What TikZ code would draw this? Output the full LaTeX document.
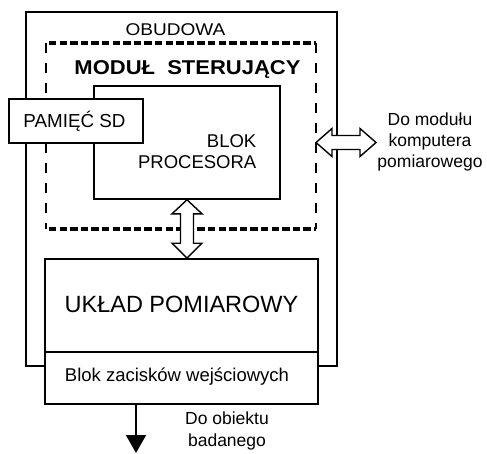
\documentclass[tikz,border=0pt]{standalone}
\usepackage{fontspec}
\setmainfont{Liberation Sans}
\usetikzlibrary{arrows.meta,calc}
\begin{document}
\begin{tikzpicture}[x=1pt,y=-1pt,
  box/.style={draw,line width=1.6pt,fill=white,inner sep=0pt,minimum width=#1},
  lbl/.style={inner sep=0pt,font=\fontsize{18.5}{21}\selectfont},
  dashA/.style={line width=3.2pt,dash pattern=on 7.3pt off 3.3pt},
  dashB/.style={line width=2.7pt,dash pattern=on 10pt off 10pt},
  fatarrow/.style={draw,line width=1.4pt,fill=white,line join=miter}]
\useasboundingbox (0,0) rectangle (487,453);
% outer housing
\node[box=311pt,minimum height=354pt] (outer) at (181.5,189) {};
% dashed control module
\coordinate (dnw) at (46,43);
\coordinate (dse) at (316,229);
\draw[dashA] (dnw -| 49,0) -- (dnw -| dse);
\draw[dashA] (dse -| 49,0) -- (dse);
\draw[dashB] (dnw) -- (dnw |- dse);
\draw[dashB] (dnw -| dse) -- (dse);
% processor block
\node[box=186pt,minimum height=113pt] (proc) at (187,142.5) {};
% SD memory
\node[box=134pt,minimum height=44pt] (mem) at (76,121) {};
% measurement and terminals
\node[box=273pt,minimum height=93pt] (meas) at (181.5,305.5) {};
\node[box=273pt,minimum height=52pt] (term) at (181.5,378) {};
% texts
\node[lbl,font={\fontsize{17}{21}\selectfont\addfontfeatures{FakeStretch=1.12}}] (tobud) at (175.5,30) {OBUDOWA};
\node[lbl,font={\bfseries\fontsize{20}{22}\selectfont\addfontfeatures{FakeStretch=1.1}}] (tmod) at (187.5,70) {MODUŁ\ \ STERUJĄCY};
\node[lbl,font={\fontsize{18.8}{21}\selectfont}] (tmem) at (74.5,121) {PAMIĘĆ SD};
\node[lbl,align=right,anchor=east] (tproc) at (256.5,152) {BLOK\\PROCESORA};
\node[lbl,font=\fontsize{23.5}{26}\selectfont] (tmeas) at (181.5,304) {UKŁAD POMIAROWY};
\node[lbl] (tterm) at (177,377) {Blok zacisków wejściowych};
\node[lbl,align=center,font=\fontsize{17.5}{21}\selectfont] (tpc) at (430,142) {Do modułu\\komputera\\pomiarowego};
\node[lbl,align=center,font=\fontsize{17.5}{22}\selectfont] (tobj) at (227,431) {Do obiektu\\badanego};
% vertical double arrow proc <-> meas
\coordinate (va) at (proc.south);
\coordinate (vb) at (va |- meas.north);
\draw[fatarrow] (va) -- ++(15,14) -- ++(-8.5,0) -- ($(vb)+(6.5,-15)$) -- ++(8.5,0)
  -- (vb) -- ++(-15,-15) -- ++(8.5,0) -- ($(va)+(-6.5,14)$) -- ++(-8.5,0) -- cycle;
% horizontal double arrow to computer
\coordinate (ha) at (dse |- proc);
\coordinate (hb) at ($(ha)+(60,0)$);
\draw[fatarrow] (ha) -- ++(16,-14) -- ++(0,7) -- ($(hb)+(-16,-7)$) -- ++(0,-7)
  -- (hb) -- ++(-16,14) -- ++(0,-7) -- ($(ha)+(16,7)$) -- ++(0,7) -- cycle;
% down arrow to object
\coordinate (dtop) at (136,404);
\coordinate (dbot) at (136,453);
\draw[line width=1.5pt,-{Triangle[width=20pt,length=18pt]}] (dtop) -- (dbot);
\end{tikzpicture}
\end{document}
